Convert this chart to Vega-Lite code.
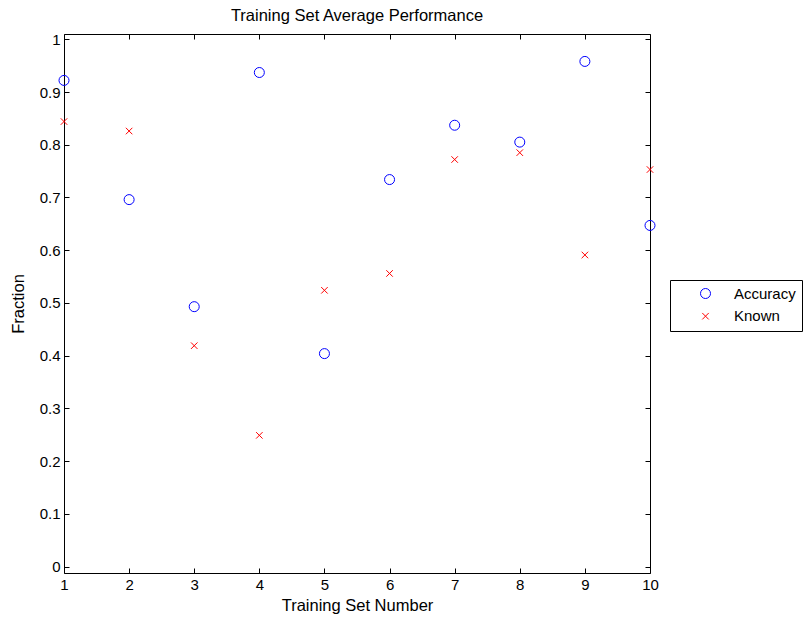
{
  "$schema": "https://vega.github.io/schema/vega-lite/v6.json",
  "width": 586,
  "height": 539,
  "autosize": {"type": "none"},
  "padding": {"left": 64, "top": 34, "right": 160, "bottom": 47},
  "background": "white",
  "title": {"text": "Training Set Average Performance", "fontSize": 16.5, "font": "Liberation Sans", "fontWeight": "normal", "color": "black", "offset": 8},
  "data": {
    "values": [
      {"set": 1, "series": "Accuracy", "value": 0.922},
      {"set": 2, "series": "Accuracy", "value": 0.696},
      {"set": 3, "series": "Accuracy", "value": 0.493},
      {"set": 4, "series": "Accuracy", "value": 0.937},
      {"set": 5, "series": "Accuracy", "value": 0.404},
      {"set": 6, "series": "Accuracy", "value": 0.734},
      {"set": 7, "series": "Accuracy", "value": 0.837},
      {"set": 8, "series": "Accuracy", "value": 0.805},
      {"set": 9, "series": "Accuracy", "value": 0.958},
      {"set": 10, "series": "Accuracy", "value": 0.647},
      {"set": 1, "series": "Known", "value": 0.844},
      {"set": 2, "series": "Known", "value": 0.826},
      {"set": 3, "series": "Known", "value": 0.419},
      {"set": 4, "series": "Known", "value": 0.249},
      {"set": 5, "series": "Known", "value": 0.524},
      {"set": 6, "series": "Known", "value": 0.556},
      {"set": 7, "series": "Known", "value": 0.772},
      {"set": 8, "series": "Known", "value": 0.785},
      {"set": 9, "series": "Known", "value": 0.591},
      {"set": 10, "series": "Known", "value": 0.753}
    ]
  },
  "layer": [
    {
      "mark": {"type": "point", "filled": false, "strokeWidth": 1, "size": 100, "opacity": 1},
      "encoding": {
        "x": {"field": "set", "type": "quantitative", "scale": {"domain": [1, 10], "nice": false, "zero": false},
              "axis": {"orient": "bottom", "values": [1,2,3,4,5,6,7,8,9,10], "format": "d", "title": "Training Set Number", "titlePadding": 5}},
        "y": {"field": "value", "type": "quantitative", "scale": {"domain": [-0.012, 1.01], "nice": false, "zero": false},
              "axis": {"orient": "left", "values": [0,0.1,0.2,0.3,0.4,0.5,0.6,0.7,0.8,0.9,1], "format": "~g", "title": "Fraction", "titlePadding": 13}},
        "color": {"field": "series", "type": "nominal", "scale": {"domain": ["Accuracy", "Known"], "range": ["#0000ff", "#ff0000"]},
                  "legend": {"orient": "none", "legendX": 606, "legendY": 246, "title": null, "strokeColor": "black", "fillColor": "white", "padding": 6, "symbolOffset": 22, "labelOffset": 21, "labelFontSize": 15, "labelFont": "Liberation Sans", "labelColor": "black", "rowPadding": 6.7, "symbolSize": 100, "symbolStrokeWidth": 1}},
        "shape": {"field": "series", "type": "nominal", "scale": {"domain": ["Accuracy", "Known"], "range": ["circle", "M-0.65,-0.65L0.65,0.65M-0.65,0.65L0.65,-0.65"]},
                  "legend": {"orient": "none", "legendX": 606, "legendY": 246, "title": null, "strokeColor": "black", "fillColor": "white", "padding": 6, "symbolOffset": 22, "labelOffset": 21, "labelFontSize": 15, "labelFont": "Liberation Sans", "labelColor": "black", "rowPadding": 6.7, "symbolSize": 100, "symbolStrokeWidth": 1}}
      }
    },
    {
      "mark": {"type": "point", "opacity": 0},
      "encoding": {
        "x": {"field": "set", "type": "quantitative", "scale": {"domain": [1, 10], "nice": false, "zero": false},
              "axis": {"orient": "top", "values": [1,2,3,4,5,6,7,8,9,10], "labels": false, "title": null}},
        "y": {"field": "value", "type": "quantitative", "scale": {"domain": [-0.012, 1.01], "nice": false, "zero": false},
              "axis": {"orient": "right", "values": [0,0.1,0.2,0.3,0.4,0.5,0.6,0.7,0.8,0.9,1], "labels": false, "title": null}}
      }
    }
  ],
  "resolve": {"axis": {"x": "independent", "y": "independent"}},
  "config": {
    "view": {"stroke": null},
    "axis": {"domainColor": "black", "domainWidth": 1, "tickColor": "black", "tickSize": -5, "grid": false,
             "labelFont": "Liberation Sans", "labelFontSize": 15, "labelColor": "black", "labelPadding": 9, "labelFlush": false, "labelOverlap": false,
             "titleFont": "Liberation Sans", "titleFontSize": 16.5, "titleFontWeight": "normal", "titleColor": "black"}
  }
}
